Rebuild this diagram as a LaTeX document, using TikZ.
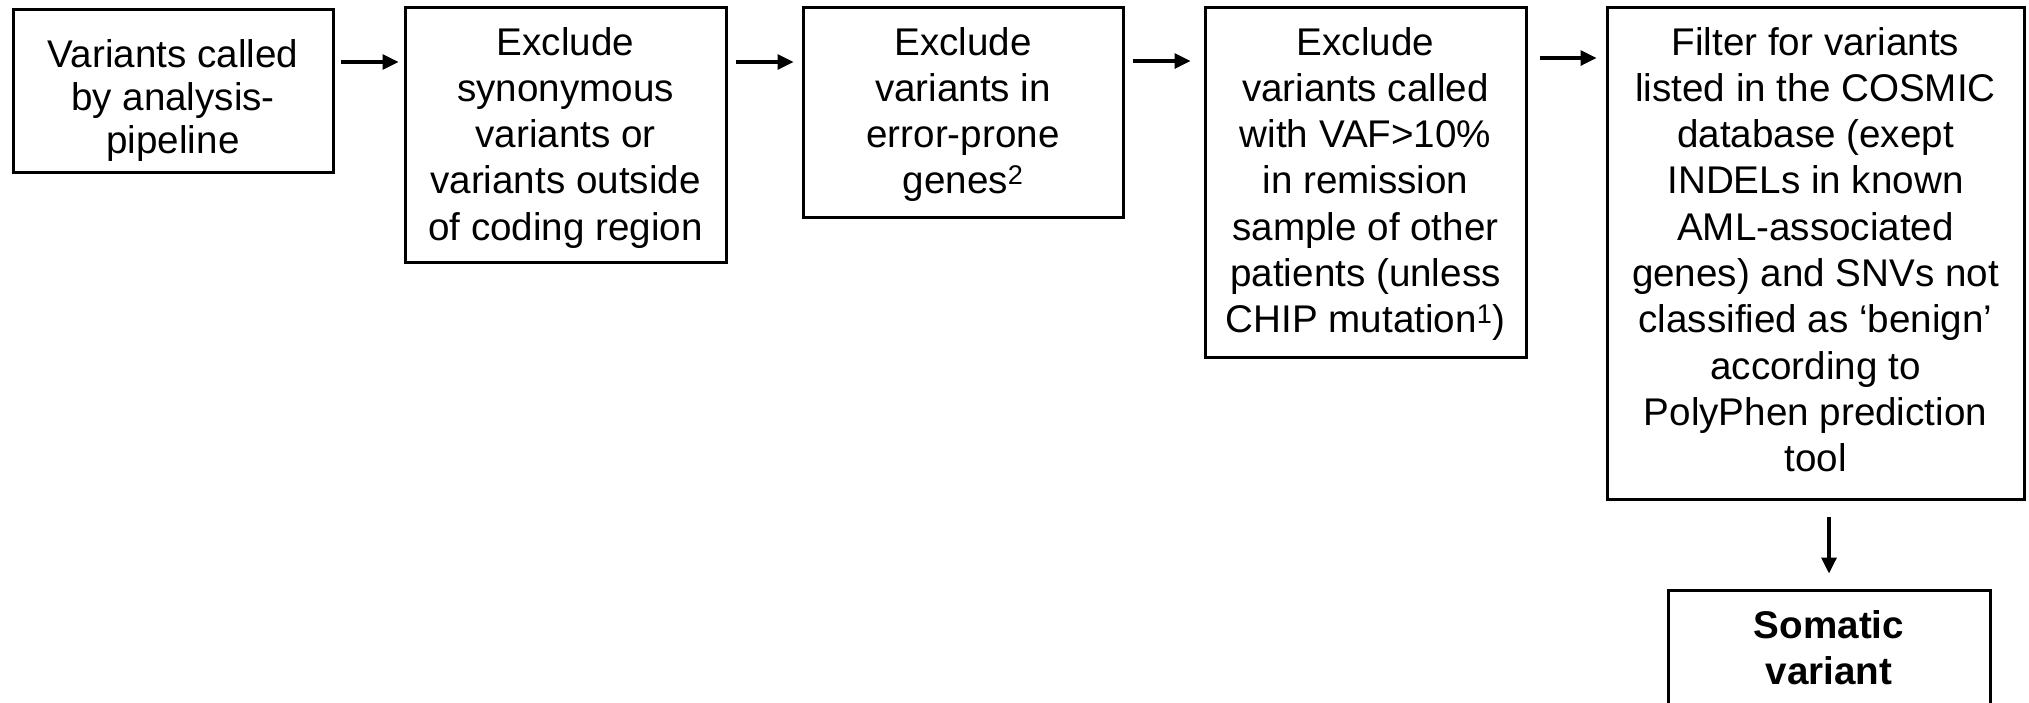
\documentclass[tikz,border=0pt]{standalone}
\usepackage{fontspec}
\setmainfont{Liberation Sans}
\usetikzlibrary{arrows.meta}
\tikzset{
  box/.style={draw=black, line width=3pt, rectangle, inner sep=0pt},
  txt/.style={align=center, inner sep=0pt, font=\fontsize{38.6}{46.3}\selectfont},
  txtA/.style={align=center, inner sep=0pt, font=\fontsize{38.6}{43}\selectfont},
  arr/.style={line width=3.3pt, -{Triangle[length=16pt,width=15pt]}}
}
\begin{document}
\begin{tikzpicture}[x=1pt,y=-1pt]
\clip (0,0) rectangle (2029,702);
\fill[white] (0,0) rectangle (2029,702);
% boxes
\node[box, minimum width=320pt, minimum height=163pt] (b1) at (173,90.5) {};
\node[box, minimum width=321pt, minimum height=255pt] (b2) at (565.5,134.5) {};
\node[box, minimum width=320pt, minimum height=210pt] (b3) at (963,112) {};
\node[box, minimum width=321pt, minimum height=350pt] (b4) at (1365.5,182) {};
\node[box, minimum width=417pt, minimum height=492pt] (b5) at (1815.5,253) {};
\node[box, minimum width=322pt, minimum height=140pt] (b6) at (1829,660) {};
% texts (base anchor = baseline of the last line)
\node[txtA, anchor=base] (t1) at (173,153) {Variants called\\by analysis-\\pipeline};
\node[txt, anchor=base] (t2) at (565.5,240.2) {Exclude\\synonymous\\variants or\\variants outside\\of coding region};
\node[txt, anchor=base] (t3) at (963,193.9) {Exclude\\variants in\\error-prone\\genes\textsuperscript{2}};
\node[txt, anchor=base] (t4) at (1365.5,332.8) {Exclude\\variants called\\with VAF>10\%\\in remission\\sample of other\\patients (unless\\CHIP mutation\textsuperscript{1})};
\node[txt, anchor=base] (t5) at (1815.5,471.7) {Filter for variants\\listed in the COSMIC\\database (exept\\INDELs in known\\AML-associated\\genes) and SNVs not\\classified as ‘benign’\\according to\\PolyPhen prediction\\tool};
\node[txt, anchor=base, font=\fontsize{38.6}{46.3}\selectfont\bfseries] (t6) at (1829,684.3) {Somatic\\variant};
% connectors
\coordinate (rowA) at (0,62);
\coordinate (rowB) at (0,61);
\coordinate (rowC) at (0,58);
\draw[arr, shorten <=6pt, shorten >=5pt] (b1.east |- rowA) -- (b2.west |- rowA);
\draw[arr, shorten <=8pt, shorten >=8pt] (b2.east |- rowA) -- (b3.west |- rowA);
\draw[arr, shorten <=8pt, shorten >=13pt] (b3.east |- rowB) -- (b4.west |- rowB);
\draw[arr, shorten <=12pt, shorten >=9pt] (b4.east |- rowC) -- (b5.west |- rowC);
\draw[arr, shorten <=16pt, shorten >=15pt] (b5.south -| b6.north) -- (b6.north);
\end{tikzpicture}
\end{document}
